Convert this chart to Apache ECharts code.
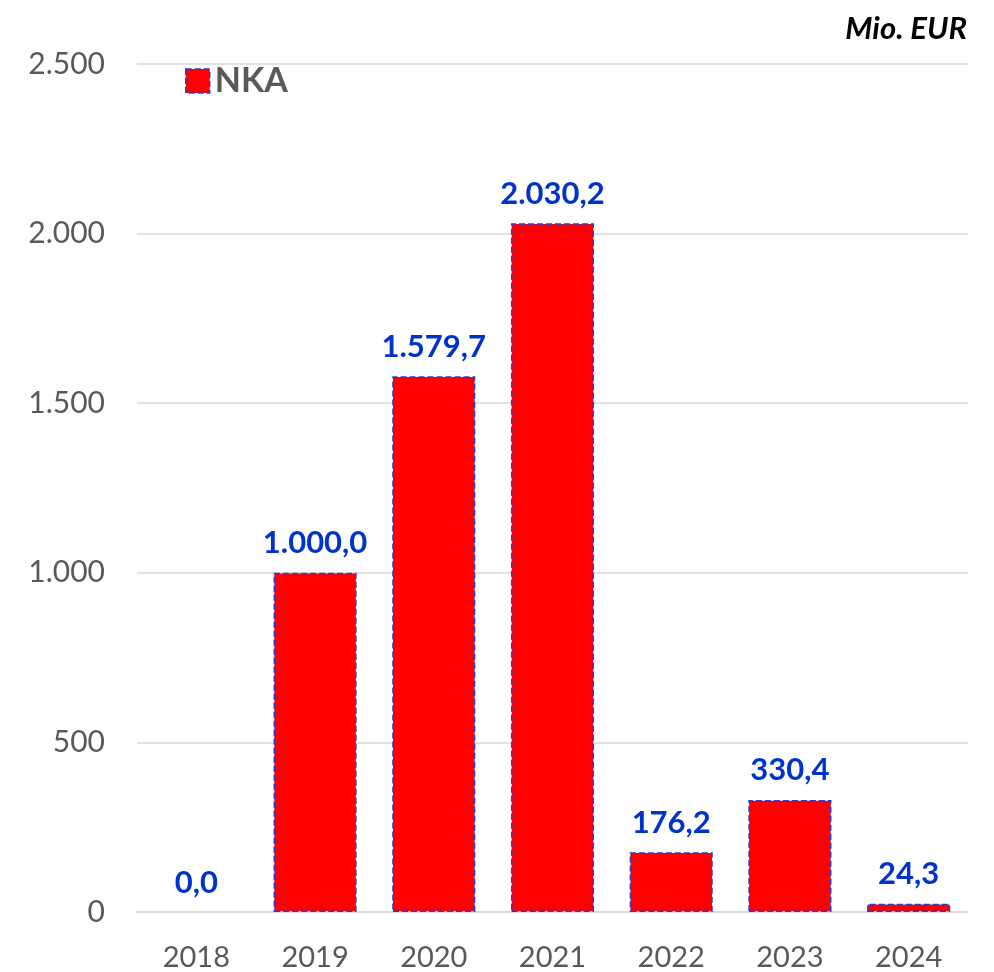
<!DOCTYPE html>
<html>
<head>
<meta charset="utf-8">
<script src="https://cdn.jsdelivr.net/npm/echarts@6/dist/echarts.min.js"></script>
<style>
  html, body { margin: 0; padding: 0; background: #fff; }
  #chart { width: 994px; height: 972px; }
</style>
</head>
<body>
<div id="chart"></div>
<script>
const years = ['2018', '2019', '2020', '2021', '2022', '2023', '2024'];
const nka = [0.0, 1000.0, 1579.7, 2030.2, 176.2, 330.4, 24.3];
const yTicks = [0, 500, 1000, 1500, 2000, 2500];

const font = 'Lato, "Liberation Sans", sans-serif';

// German number format: 1.579,7
function deFmt (v, dec) {
  const parts = v.toFixed(dec).split('.');
  parts[0] = parts[0].replace(/\B(?=(\d{3})+(?!\d))/g, '.');
  return dec ? parts.join(',') : parts[0];
}

const barStyle = { color: '#ff0000', borderColor: '#1f3fd6', borderWidth: 1.5, borderType: 'dashed' };

const chart = echarts.init(document.getElementById('chart'));
chart.setOption({
  animation: false,
  grid: { left: 137, right: 26, top: 64, bottom: 59 },
  title: {
    text: 'Mio. EUR',
    right: 22, top: 8,
    textStyle: { fontFamily: font, fontSize: 31, fontWeight: 'bold', fontStyle: 'italic', color: '#000' }
  },
  legend: {
    left: 180, top: 59,
    icon: 'rect',
    itemWidth: 24, itemHeight: 24, itemGap: 8,
    itemStyle: barStyle,
    textStyle: { fontFamily: font, fontSize: 34, fontWeight: 'bold', color: '#595959' },
    data: ['NKA']
  },
  xAxis: {
    type: 'category',
    data: years,
    axisLine: { lineStyle: { color: '#d9d9d9', width: 2 } },
    axisTick: { length: 11, lineStyle: { color: '#d9d9d9', width: 2 } },
    axisLabel: { fontFamily: font, fontSize: 29, color: '#595959', margin: 31 }
  },
  yAxis: {
    type: 'value',
    min: 0, max: 2500, interval: 500,
    axisLine: { show: false },
    axisTick: { show: false },
    splitLine: { lineStyle: { color: '#d9d9d9', width: 1.5 } },
    axisLabel: {
      fontFamily: font, fontSize: 30, color: '#595959', margin: 32,
      formatter: v => yTicks.includes(v) ? deFmt(v, 0) : ''
    }
  },
  series: [{
    name: 'NKA',
    type: 'bar',
    // a zero bar shows no outline in the original
    data: nka.map(v => v === 0 ? { value: v, itemStyle: { borderWidth: 0 } } : v),
    barCategoryGap: '30%',
    itemStyle: barStyle,
    label: {
      show: true, position: 'top', distance: 14,
      fontFamily: font, fontSize: 31, fontWeight: 'bold', color: '#0033cc',
      formatter: p => deFmt(p.value, 1)
    }
  }]
});
</script>
</body>
</html>
